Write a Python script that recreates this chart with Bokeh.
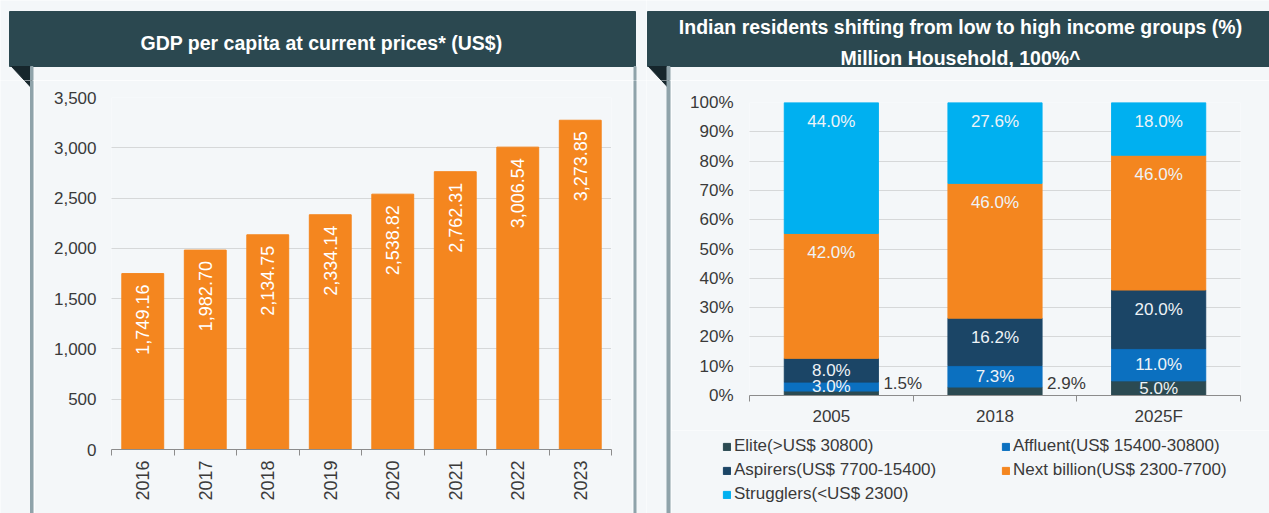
import math
from bokeh.plotting import figure
from bokeh.layouts import row, column
from bokeh.models import (ColumnDataSource, Range1d, FixedTicker, NumeralTickFormatter,
                          PrintfTickFormatter, Legend, LegendItem)
from bokeh.core.properties import value
from bokeh.embed import file_html
from bokeh.resources import INLINE

# ---------------- data ----------------
gdp_title = "GDP per capita at current prices* (US$)"
gdp_years = ["2016", "2017", "2018", "2019", "2020", "2021", "2022", "2023"]
gdp_values = [1749.16, 1982.70, 2134.75, 2334.14, 2538.82, 2762.31, 3006.54, 3273.85]
gdp_ticks = [0, 500, 1000, 1500, 2000, 2500, 3000, 3500]

inc_title = ["Indian residents shifting from low to high income groups (%)",
             "Million Household, 100%^"]
inc_years = ["2005", "2018", "2025F"]
elite = [1.5, 2.9, 5.0]
affluent = [3.0, 7.3, 11.0]
aspirers = [8.0, 16.2, 20.0]
next_billion = [42.0, 46.0, 46.0]
strugglers = [44.0, 27.6, 18.0]
inc_ticks = [0, 10, 20, 30, 40, 50, 60, 70, 80, 90, 100]
series_names = ["Elite(>US$ 30800)", "Affluent(US$ 15400-30800)",
                "Aspirers(US$ 7700-15400)", "Next billion(US$ 2300-7700)",
                "Strugglers(<US$ 2300)"]

# ---------------- style ----------------
BG = "#f4f7f9"
HEADER = "#2b4850"
FOLD = "#16262c"
BORDER = "#8fa3aa"
FONT = "Liberation Sans"
ORANGE = "#f4861f"
TXT = "#3a3a3a"
GRID = "#b8b8b8"
AXIS = "#8c8c8c"
series_colors = ["#2b4a52", "#0b70c0", "#1b4566", "#f4861f", "#00b0f0"]

PAGE_H = 513
HEAD_H = 80
BODY_H = PAGE_H - HEAD_H
P2_H = 350
LEG_H = BODY_H - P2_H

# panel decorations in page pixel coordinates
left_panel = dict(header=(9, 635, 11, 66), fold=([11, 31.5, 31.5], [66, 66, 88]),
                  lines=[(30, 32.5), (633.5, 635.5)])
right_panel = dict(header=(647, 1269, 11, 66), fold=([648, 668.5, 668.5], [66, 66, 88]),
                   lines=[(666.5, 669.5)])


def plain(w, h, xr, yr):
    p = figure(width=w, height=h, x_range=xr, y_range=yr,
               x_axis_location=None, y_axis_location=None,
               output_backend="svg", toolbar_location=None, frame_align=False,
               min_border_left=0, min_border_right=0,
               min_border_top=0, min_border_bottom=0)
    p.background_fill_color = BG
    p.border_fill_color = BG
    p.outline_line_color = None
    p.grid.visible = False
    return p


def deco(x0, x1, y0, y1, panel, texts=None):
    """A figure covering page area [x0,x1]x[y0,y1], drawing the panel frame pieces."""
    p = plain(x1 - x0, y1 - y0, Range1d(x0, x1), Range1d(y1, y0))
    l, r, t, b = panel["header"]
    p.quad(left=[l], right=[r], top=[t], bottom=[b], color=HEADER)
    p.patch(panel["fold"][0], panel["fold"][1], color=FOLD)
    for (ll, rr) in panel["lines"]:
        p.quad(left=[ll], right=[rr], top=[b], bottom=[PAGE_H], color=BORDER)
    if texts:
        xs, ys, tt = texts
        p.text(x=xs, y=ys, text=tt, text_color="white",
               text_font=value(FONT), text_font_style="bold", text_font_size="19.5px",
               text_align="center", text_baseline="middle")
    return p


def style_axes(p, xsize="17px"):
    for ax in (p.xaxis, p.yaxis):
        ax.major_label_text_font = FONT
        ax.major_label_text_color = TXT
    p.yaxis.major_label_text_font_size = "17px"
    p.xaxis.major_label_text_font_size = xsize
    p.yaxis.axis_line_color = None
    p.yaxis.major_tick_line_color = None
    p.yaxis.minor_tick_line_color = None
    p.yaxis.major_tick_out = 0
    p.yaxis.major_tick_in = 0
    p.xaxis.axis_line_color = AXIS
    p.xaxis.major_tick_line_color = None
    p.xaxis.major_tick_out = 0
    p.xaxis.major_tick_in = 0
    p.xaxis.minor_tick_line_color = AXIS
    p.xaxis.minor_tick_out = 6
    p.xaxis.minor_tick_in = 0
    p.xgrid.visible = False
    p.ygrid.grid_line_color = GRID
    p.ygrid.grid_line_dash = "1 1"


# ---------------- left chart ----------------
n1 = len(gdp_years)
src1 = ColumnDataSource(dict(x=[i + 0.5 for i in range(n1)], top=gdp_values,
                             lab=[f"{v:,.2f}" for v in gdp_values]))
p1 = figure(width=598, height=BODY_H, x_range=Range1d(0, n1),
            y_range=Range1d(0, gdp_ticks[-1]),
            output_backend="svg", toolbar_location=None, frame_align=False,
            min_border_left=77, min_border_right=21, min_border_top=17, min_border_bottom=64)
p1.background_fill_color = BG
p1.border_fill_color = BG
p1.outline_line_color = None
p1.vbar(x="x", top="top", width=0.67, color=ORANGE, source=src1)
p1.text(x="x", y="top", text="lab", angle=math.pi / 2, text_align="right",
        text_baseline="middle", y_offset=11, text_color="white",
        text_font=value(FONT), text_font_size="18px", source=src1)
style_axes(p1, xsize="18px")
p1.yaxis.ticker = FixedTicker(ticks=gdp_ticks)
p1.ygrid.ticker = FixedTicker(ticks=gdp_ticks)
p1.yaxis.formatter = NumeralTickFormatter(format="0,0")
p1.yaxis.major_label_standoff = 15
p1.xaxis.ticker = FixedTicker(ticks=[i + 0.5 for i in range(n1)],
                              minor_ticks=list(range(n1 + 1)))
p1.xaxis.major_label_overrides = {i + 0.5: y for i, y in enumerate(gdp_years)}
p1.xaxis.major_label_orientation = math.pi / 2
p1.xaxis.major_label_standoff = 5

# ---------------- right chart ----------------
n2 = len(inc_years)
raw = [elite, affluent, aspirers, next_billion, strugglers]
totals = [sum(s[i] for s in raw) for i in range(n2)]
keys = ["s%d" % k for k in range(len(raw))]
data2 = dict(x=[i + 0.5 for i in range(n2)])
for k, s in zip(keys, raw):
    data2[k] = [s[i] / totals[i] * 100 for i in range(n2)]
src2 = ColumnDataSource(data2)

BAR_W2 = 0.575
p2 = figure(width=598, height=P2_H, x_range=Range1d(0, n2), y_range=Range1d(0, 100),
            output_backend="svg", toolbar_location=None, frame_align=False,
            min_border_left=78, min_border_right=29, min_border_top=22, min_border_bottom=35)
p2.background_fill_color = BG
p2.border_fill_color = BG
p2.outline_line_color = None
p2.vbar_stack(keys, x="x", width=BAR_W2, color=series_colors, source=src2)

in_x, in_y, in_t = [], [], []
out_x, out_y, out_t = [], [], []
for i in range(n2):
    bottom = 0.0
    for k, s in zip(keys, raw):
        h = data2[k][i]
        top = bottom + h
        label = f"{s[i]:.1f}%"
        if s[i] < 3:
            out_x.append(i + 0.5 + BAR_W2 / 2)
            out_y.append(0)
            out_t.append(label)
        else:
            in_x.append(i + 0.5)
            in_y.append(max(top - 6.5, (bottom + top) / 2))
            in_t.append(label)
        bottom = top
p2.text(x=in_x, y=in_y, text=in_t, text_align="center", text_baseline="middle",
        text_color="#eef3f7", text_font=value(FONT), text_font_size="17px")
p2.text(x=out_x, y=out_y, text=out_t, text_align="left", text_baseline="middle",
        x_offset=5, y_offset=-12, text_color=TXT, text_font=value(FONT),
        text_font_size="17px")

style_axes(p2)
p2.yaxis.ticker = FixedTicker(ticks=inc_ticks)
p2.ygrid.ticker = FixedTicker(ticks=inc_ticks)
p2.yaxis.formatter = PrintfTickFormatter(format="%d%%")
p2.yaxis.major_label_standoff = 16
p2.xaxis.ticker = FixedTicker(ticks=[i + 0.5 for i in range(n2)],
                              minor_ticks=list(range(n2 + 1)))
p2.xaxis.major_label_overrides = {i + 0.5: y for i, y in enumerate(inc_years)}
p2.xaxis.major_label_standoff = 5

# legend strip below the right chart (its own small figure); the swatch
# renderers hold one bar each, placed outside the strip's visible range
lg = plain(598, LEG_H, Range1d(0, 1), Range1d(0, 1))
swatch_src = ColumnDataSource(dict(x=[-5.0], top=[-5.0]))
leg_rends = [lg.vbar(x="x", top="top", bottom=-6.0, width=0.5, color=c, source=swatch_src)
             for c in series_colors]


def make_legend(idx, loc):
    L = Legend(items=[LegendItem(label=series_names[j], renderers=[leg_rends[j]]) for j in idx],
               location=loc, orientation="vertical")
    L.label_text_font = FONT
    L.label_text_font_size = "17px"
    L.label_text_color = TXT
    L.glyph_width = 9
    L.glyph_height = 9
    L.label_height = 24
    L.label_standoff = 3
    L.spacing = 0
    L.padding = 0
    L.margin = 0
    L.border_line_color = None
    L.background_fill_alpha = 0
    return L


lg.add_layout(make_legend([0, 2, 4], (51, 7)))
lg.add_layout(make_legend([1, 3], (330, 31)))

# ---------------- layout ----------------
h1 = deco(0, 646, 0, HEAD_H, left_panel, texts=([321], [42.5], [gdp_title]))
h2 = deco(646, 1269, 0, HEAD_H, right_panel, texts=([960, 960], [26.5, 57], inc_title))
d1 = deco(0, 34, HEAD_H, PAGE_H, left_panel)
d1b = deco(632, 646, HEAD_H, PAGE_H, left_panel)
d2 = deco(646, 671, HEAD_H, PAGE_H, right_panel)

left = column(h1, row(d1, p1, d1b, spacing=0), spacing=0)
right = column(h2, row(d2, column(p2, lg, spacing=0), spacing=0), spacing=0)
layout = row(left, right, spacing=0)

open("out.html", "w").write(file_html(layout, INLINE))
